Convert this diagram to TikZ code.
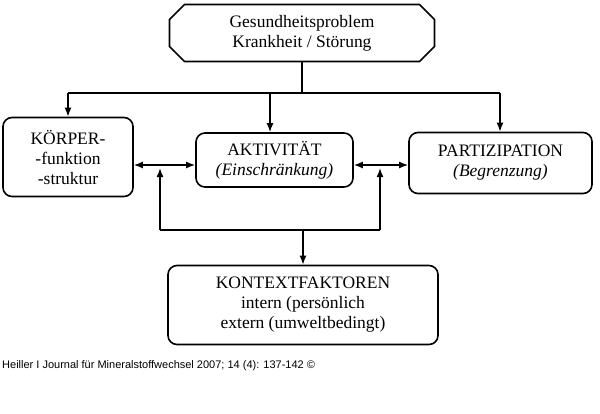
\documentclass[tikz,border=0pt]{standalone}
\usepackage{fontspec}
\setmainfont{Liberation Serif}
\newfontfamily\footfont{Liberation Sans}
\usetikzlibrary{shapes.misc,arrows.meta}
\tikzset{
  box/.style={draw,line width=1.6pt,rounded corners=9pt,align=center,font=\fontsize{17.5}{20}\selectfont},
  conn/.style={line width=1.6pt,-{Latex[length=9pt,width=7pt]}},
}
\begin{document}
\begin{tikzpicture}[x=1pt,y=-1pt]
  \useasboundingbox (0,0) rectangle (600,413);
  % top problem box
  \node[draw,line width=1.6pt,chamfered rectangle,chamfered rectangle xsep=12pt,align=center,
        minimum width=265pt,minimum height=57pt,font=\fontsize{17.5}{20}\selectfont]
        (prob) at (302,33) {Gesundheitsproblem\\Krankheit / Störung};

  % three components
  \node[box,minimum width=130pt,minimum height=79pt] (koerper) at (68,157)
        {KÖRPER-\\-funktion\\-struktur};
  \node[box,minimum width=157pt,minimum height=54pt] (akt) at (274.5,160)
        {AKTIVITÄT\\\textit{(Einschränkung)}};
  \node[box,minimum width=183pt,minimum height=61pt] (part) at (500.5,163)
        {PARTIZIPATION\\\textit{(Begrenzung)}};

  % context box
  \node[box,minimum width=270pt,minimum height=79pt] (kontext) at (303,305)
        {KONTEXTFAKTOREN\\intern (persönlich\\extern (umweltbedingt)};

  % distribution from the top box
  \coordinate (top) at (prob.south |- 0,93);
  \coordinate (tl) at (koerper.north |- top);
  \coordinate (tr) at (500,93);
  \draw[line width=1.6pt] (prob.south) -- (top);
  \draw[line width=1.6pt] (tl) -- (tr);
  \draw[conn] (tl) -- (koerper.north);
  \draw[conn] (top -| 270,0) -- (akt.north -| 270,0);
  \draw[conn] (tr) -- (part.north -| tr);

  % double arrows between components
  \draw[conn,{Latex[length=9pt,width=7pt]}-{Latex[length=9pt,width=7pt]}]
        (koerper.east |- 0,165) -- (akt.west |- 0,165);
  \draw[conn,{Latex[length=9pt,width=7pt]}-{Latex[length=9pt,width=7pt]}]
        (akt.east |- 0,165) -- (part.west |- 0,165);

  % context links
  \coordinate (cl) at (160,230);
  \coordinate (cr) at (380,230);
  \coordinate (cm) at (303,230);
  \draw[conn] (cl) -- (160,168);
  \draw[conn] (cr) -- (380,168);
  \draw[line width=1.6pt] (cl) -- (cr);
  \draw[conn] (cm) -- (kontext.north);

  % source line
  \node[anchor=west,font=\footfont\fontsize{11}{13}\selectfont,inner sep=0pt]
        (src) at (2,366) {Heiller I Journal für Mineralstoffwechsel 2007; 14 (4): 137-142 ©};
\end{tikzpicture}
\end{document}
